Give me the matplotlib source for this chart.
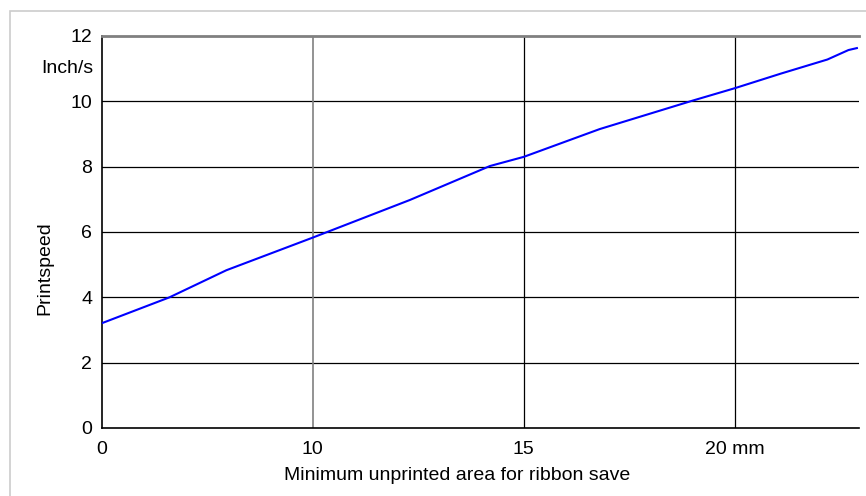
import numpy as np
import matplotlib
matplotlib.use("Agg")
import matplotlib.pyplot as plt
from matplotlib.patches import Rectangle

# Data
area_mm = [0, 3.2, 5.9, 10, 12.3, 14.2, 15, 16.8, 19.0, 20, 21.1, 22.2, 22.7, 22.9]
speed = [3.21, 4.0, 4.83, 5.83, 6.98, 8.02, 8.30, 9.15, 10.02, 10.40, 10.85, 11.28, 11.57, 11.63]

x_ticks = [0, 10, 15, 20]
x_tick_labels = ["0", "10", "15", "20 mm"]
y_ticks = [0, 2, 4, 6, 8, 10, 12]

plt.rcParams['font.family'] = ['Liberation Sans', 'DejaVu Sans']


# x axis is not linear: 0-10 takes the same width as 10-15
def fwd(x):
    x = np.asarray(x, dtype=float)
    return np.where(x <= 10, x / 10.0, 1 + (x - 10) / 5.0)


def inv(u):
    u = np.asarray(u, dtype=float)
    return np.where(u <= 1, u * 10.0, 10 + (u - 1) * 5.0)


fig = plt.figure(figsize=(8.66, 4.96), dpi=100)
ax = fig.add_axes([102 / 866, 1 - 428 / 496, (859 - 102) / 866, (428 - 36) / 496])

# light gray frame around the chart
fig.patches.append(Rectangle((10 / 866, -0.1), 1.0, 1 - 11 / 496 + 0.1,
                             transform=fig.transFigure, fill=False,
                             edgecolor='#cccccc', linewidth=1.2))

ax.set_xscale('function', functions=(fwd, inv))
ax.plot(area_mm, speed, color='#0000ff', linewidth=1.5, zorder=3)

ax.set_xlim(0, 22.95)
ax.set_ylim(0, 12)
ax.set_xticks(x_ticks)
ax.set_xticklabels(x_tick_labels)
ax.set_yticks(y_ticks)
ax.xaxis.set_minor_locator(matplotlib.ticker.NullLocator())
ax.tick_params(axis='y', length=0, labelsize=14, pad=7)
ax.tick_params(axis='x', length=0, labelsize=14, pad=9)

# grid lines
for y in y_ticks[1:-1]:
    ax.axhline(y, color='black', linewidth=0.9, zorder=1)
for x in x_ticks[1:]:
    col = '#808080' if x == 10 else 'black'
    ax.axvline(x, color=col, linewidth=1.2 if x == 10 else 0.9, zorder=1)

ax.spines['right'].set_visible(False)
ax.spines['top'].set_color('#808080')
ax.spines['top'].set_linewidth(2)
ax.spines['left'].set_linewidth(1.2)
ax.spines['bottom'].set_linewidth(1.2)

# axis titles, placed where the reference has them (not centred on the axes)
ax.set_xlabel('Minimum unprinted area for ribbon save', fontsize=14)
ax.xaxis.set_label_coords((457 - 102) / 757, (428 - 475) / 392)
ax.xaxis.label.set_verticalalignment('center')
ax.set_ylabel('Printspeed', fontsize=14)
ax.yaxis.set_label_coords((45 - 102) / 757, (428 - 268) / 392)
ax.yaxis.label.set_verticalalignment('center')
ax.text(-0.012, 11.0, 'Inch/s', transform=ax.get_yaxis_transform(),
        ha='right', va='center', fontsize=14)

fig.savefig('out.png', dpi=100)
